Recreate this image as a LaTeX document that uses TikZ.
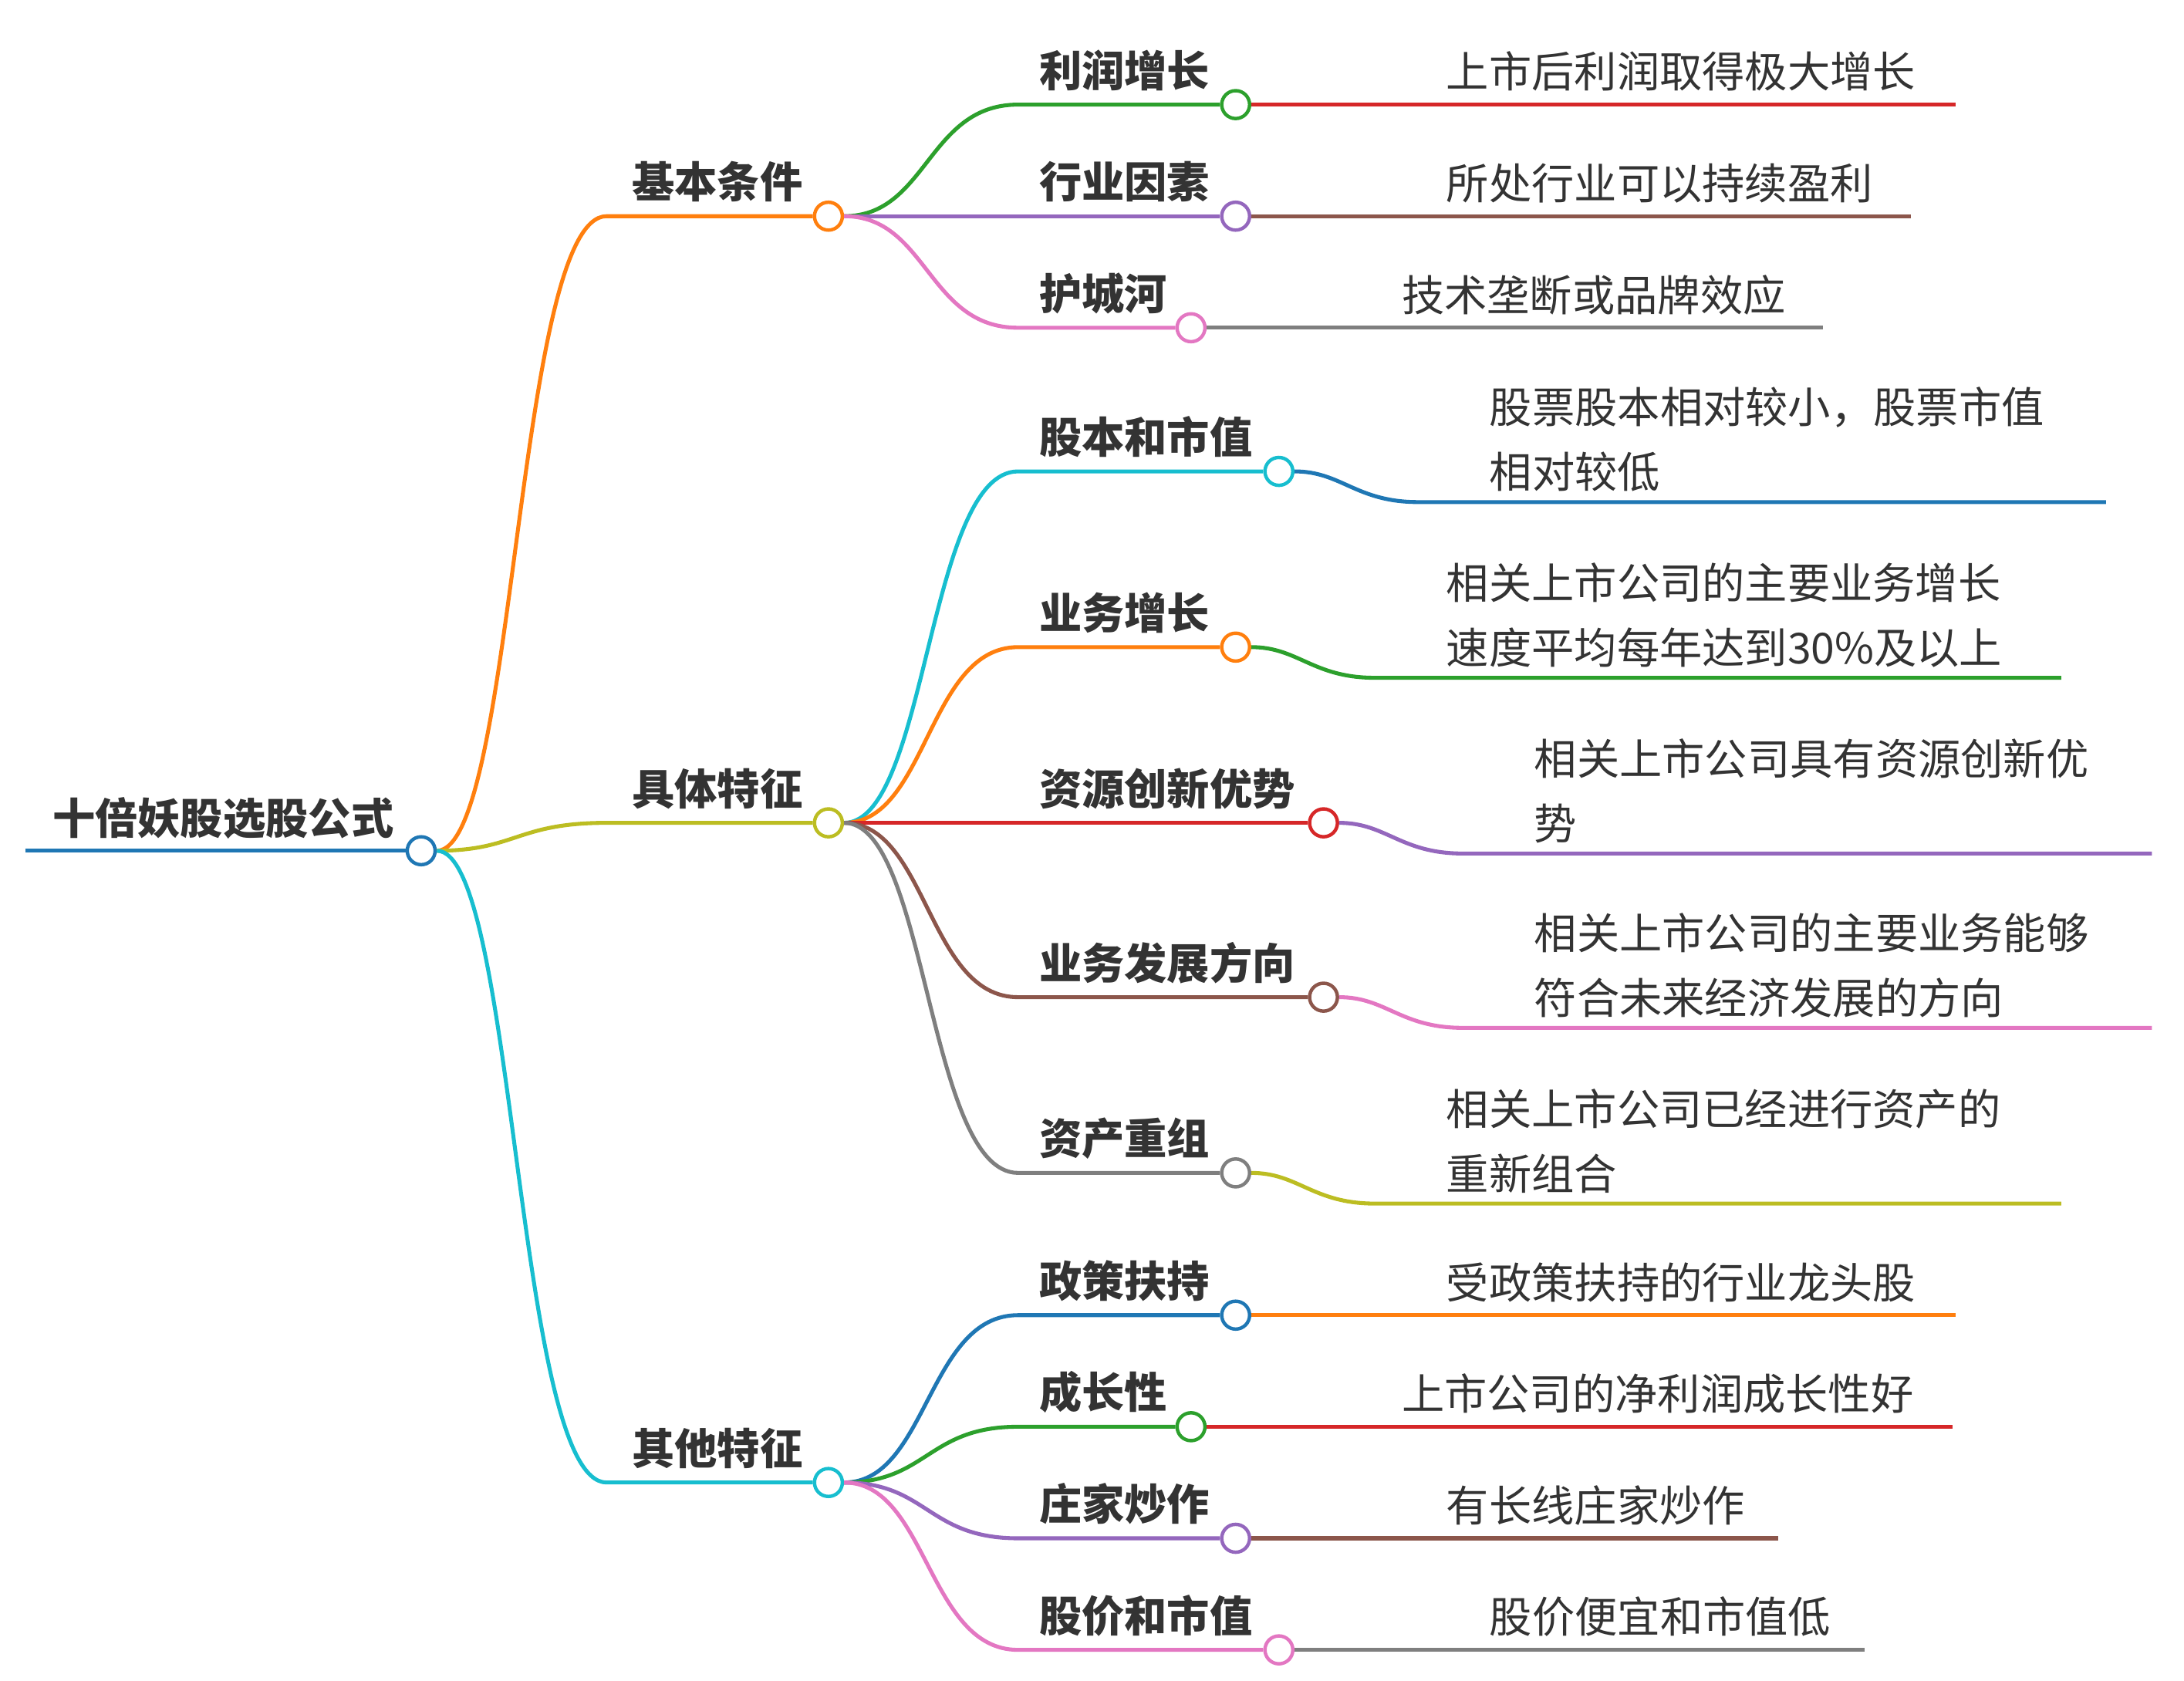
\documentclass[tikz,border=0pt]{standalone}
\usepackage{fontspec}
\setmainfont{Noto Sans CJK SC}
\definecolor{cB}{HTML}{1F77B4}\definecolor{cO}{HTML}{FF7F0E}\definecolor{cG}{HTML}{2CA02C}
\definecolor{cR}{HTML}{D62728}\definecolor{cP}{HTML}{9467BD}\definecolor{cN}{HTML}{8C564B}
\definecolor{cK}{HTML}{E377C2}\definecolor{cY}{HTML}{7F7F7F}\definecolor{cL}{HTML}{BCBD22}
\definecolor{cC}{HTML}{17BECF}\definecolor{tx}{HTML}{333333}
\tikzset{
 dot/.style={circle,draw=#1,fill=white,line width=3.5pt,minimum size=1cm,inner sep=0pt},
 ln/.style={draw=#1,line width=4pt},
 lbl/.style={font=\fontsize{43.5}{50}\selectfont\bfseries,text=tx,anchor=base west,inner sep=0pt},
 leaf/.style={font=\fontsize{43.5}{66}\selectfont,text=tx,anchor=base west,inner sep=0pt,align=left},
}
\begin{document}
\begin{tikzpicture}[x=0.05cm,y=-0.05cm]
\useasboundingbox (0,0) rectangle (1566,1205);
% root
\coordinate (r0) at (18,610);
\node[dot=cB] (root) at (302,610) {};
\draw[ln=cB] (r0) -- (root.west);
\node[lbl,anchor=base] at (160,598) {十倍妖股选股公式};
% level1
\newcommand\lone[4]{% name, y, color, text
 \node[dot=#3] (#1) at (594,#2) {};
 \draw[ln=#3] (root.east) .. controls (370,610) and (370,#2) .. (435,#2) -- (#1.west);
 \node[lbl] at (453,#2-13) {#4};}
\lone{A}{155}{cO}{基本条件}
\lone{B}{590}{cL}{具体特征}
\lone{C}{1063}{cC}{其他特征}
% level2
\newcommand\ltwo[6]{% parent, name, x, y, color, text
 \node[dot=#5] (#2) at (#3,#4) {};
 \draw[ln=#5] (#1.east) .. controls (665,\py) and (665,#4) .. (730,#4) -- (#2.west);
 \node[lbl] at (745,#4-13) {#6};}
\def\py{155}
\ltwo{A}{A1}{886}{75}{cG}{利润增长}
\ltwo{A}{A2}{886}{155}{cP}{行业因素}
\ltwo{A}{A3}{854}{235}{cK}{护城河}
\def\py{590}
\ltwo{B}{B1}{917}{338}{cC}{股本和市值}
\ltwo{B}{B2}{886}{464}{cO}{业务增长}
\ltwo{B}{B3}{949}{590}{cR}{资源创新优势}
\ltwo{B}{B4}{949}{715}{cN}{业务发展方向}
\ltwo{B}{B5}{886}{841}{cY}{资产重组}
\def\py{1063}
\ltwo{C}{C1}{886}{943}{cB}{政策扶持}
\ltwo{C}{C2}{854}{1023}{cG}{成长性}
\ltwo{C}{C3}{886}{1103}{cP}{庄家炒作}
\ltwo{C}{C4}{917}{1183}{cK}{股价和市值}
% single leaves
\coordinate (e1) at (1402,75);\draw[ln=cR] (A1.east) -- (e1);
\node[leaf] at (1037,63) {上市后利润取得极大增长};
\coordinate (e2) at (1370,155);\draw[ln=cN] (A2.east) -- (e2);
\node[leaf] at (1037,143) {所处行业可以持续盈利};
\coordinate (e3) at (1307,235);\draw[ln=cY] (A3.east) -- (e3);
\node[leaf] at (1005,223) {技术垄断或品牌效应};
\coordinate (e4) at (1402,943);\draw[ln=cO] (C1.east) -- (e4);
\node[leaf] at (1037,931) {受政策扶持的行业龙头股};
\coordinate (e5) at (1400,1023);\draw[ln=cR] (C2.east) -- (e5);
\node[leaf] at (1005,1011) {上市公司的净利润成长性好};
\coordinate (e6) at (1275,1103);\draw[ln=cN] (C3.east) -- (e6);
\node[leaf] at (1037,1091) {有长线庄家炒作};
\coordinate (e7) at (1337,1183);\draw[ln=cY] (C4.east) -- (e7);
\node[leaf] at (1068,1171) {股价便宜和市值低};
% double leaves
\newcommand\ltwoleaf[5]{% node, x, y, color, endx
 \coordinate (f#1) at (#5,#3+22);
 \draw[ln=#4] (#1.east) .. controls (#2+45,#3) and (#2+55,#3+22) .. (#2+100,#3+22) -- (f#1);}
\ltwoleaf{B1}{917}{338}{cB}{1510}
\node[leaf] at (1068,350) {股票股本相对较小，股票市值\\相对较低};
\ltwoleaf{B2}{886}{464}{cG}{1478}
\node[leaf] at (1037,476) {相关上市公司的主要业务增长\\速度平均每年达到30\%及以上};
\ltwoleaf{B3}{949}{590}{cP}{1543}
\node[leaf] at (1100,602) {相关上市公司具有资源创新优\\势};
\ltwoleaf{B4}{949}{715}{cK}{1543}
\node[leaf] at (1100,727) {相关上市公司的主要业务能够\\符合未来经济发展的方向};
\ltwoleaf{B5}{886}{841}{cL}{1478}
\node[leaf] at (1037,853) {相关上市公司已经进行资产的\\重新组合};
\end{tikzpicture}
\end{document}
